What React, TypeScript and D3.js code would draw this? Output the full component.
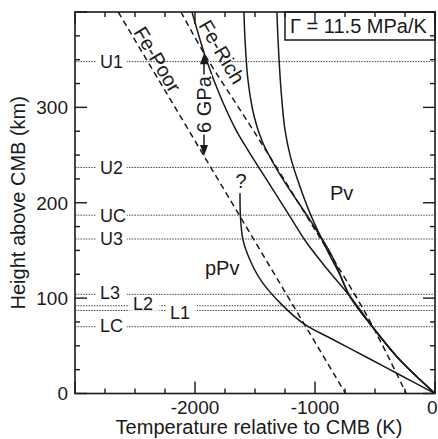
import React from "react";
import * as d3 from "d3";

// ---------- data ----------
const tempDomain: [number, number] = [-3000, 0];
const heightDomain: [number, number] = [0, 400];
const tempTickLabels = [-2000, -1000, 0];
const heightTickLabels = [0, 100, 200, 300];

const levelNames = ["U1", "U2", "UC", "U3", "L3", "L2", "L1", "LC"];
const levelHeights = [348, 237, 187, 162, 104, 92, 87, 70];
// label position (temperature) and small vertical nudges (px) — layout only
const levelLabelT = [-2792, -2792, -2792, -2792, -2792, -2517, -2208, -2792];
const levelLabelDy = [0, 0, 0, 0, -1.5, -2.5, 1.7, -1];

// phase boundaries [T, h]
const fePoor: [number, number][] = [[-2640, 400], [-745, 0]];
const feRich: [number, number][] = [[-2117, 400], [-1917, 355], [-1515, 276], [-1040, 180], [-560, 80], [-240, 0]];

// geotherms [T, h]
const geothermA: [number, number][] = [[-2025, 400], [-1908, 351], [-1792, 312.5], [-1653, 275], [-1558, 255], [-1375, 218.6], [-1208, 185.4], [-1069, 158], [-892, 129.5], [-708, 101.7], [-500, 66.6], [-292, 35.1], [0, 0]];
const geothermB: [number, number][] = [[-1592, 400], [-1583, 370.6], [-1558, 328], [-1508, 291], [-1442, 265], [-1358, 244], [-1250, 221], [-1042, 182], [-858, 144], [-708, 101.7], [-500, 66.6], [-292, 35.1], [0, 0]];
const geothermC: [number, number][] = [[-1317, 400], [-1308, 370.6], [-1283, 318.2], [-1250, 276.3], [-1208, 250], [-1150, 225.9], [-1042, 189.1], [-900, 150.5], [-792, 124.3], [-708, 101.7], [-500, 66.6], [-292, 35.1], [0, 0]];
const geothermPPv: [number, number][] = [[-1625, 210], [-1621, 185], [-1600, 161], [-1542, 140], [-1442, 117], [-1283, 94], [-1092, 73], [-875, 58.2], [-558, 37.2], [-292, 19.4], [0, 0]];

const gammaText = "Γ = 11.5 MPa/K";
const arrowT = -1925;
const arrowText = "6 GPa";

// ---------- layout ----------
const W = 438, H = 439;
const L = 75, R = 435, T = 12, B = 393.5;
const FONT = "'Liberation Sans', Arial, Helvetica, sans-serif";
const INK = "#1a1a1a";

export default function App() {
  const x = d3.scaleLinear().domain(tempDomain).range([L, R]);
  const y = d3.scaleLinear().domain(heightDomain).range([B, T]);
  const line = d3
    .line<[number, number]>()
    .x((d) => x(d[0]))
    .y((d) => y(d[1]))
    .curve(d3.curveCatmullRom.alpha(0.5));
  const straight = d3
    .line<[number, number]>()
    .x((d) => x(d[0]))
    .y((d) => y(d[1]));

  const xTicks = d3.range(tempDomain[0], tempDomain[1] + 1, 250);
  const yTicks = d3.range(heightDomain[0], heightDomain[1] + 1, 25);

  const hAt = (pts: [number, number][], t: number) =>
    d3.scaleLinear().domain(pts.map((p) => p[0])).range(pts.map((p) => p[1]))(t);
  const ax = x(arrowT);
  const aTop = y(hAt([...feRich].reverse(), arrowT));
  const aBot = y(hAt([...fePoor].reverse(), arrowT));

  const angle = (pts: [number, number][]) => {
    const a = pts[0], b = pts[pts.length - 1];
    return (Math.atan2(y(b[1]) - y(a[1]), x(b[0]) - x(a[0])) * 180) / Math.PI;
  };

  const lblFs = 18;
  const cap = lblFs * 0.716;

  return (
    <div style={{ position: "fixed", left: 0, top: 0 }}>
      <svg width={W} height={H} style={{ display: "block", background: "#fff" }} fontFamily={FONT}>
        <defs>
          <clipPath id="plot">
            <rect x={L} y={T} width={R - L} height={B - T} />
          </clipPath>
        </defs>
        <rect width={W} height={H} fill="#fff" />

        {/* horizontal levels */}
        <g clipPath="url(#plot)">
          {levelHeights.map((h, i) => (
            <line key={"lv" + i} x1={L} x2={R} y1={y(h)} y2={y(h)} stroke="#444" strokeWidth={1} strokeDasharray="1.5,1.2" />
          ))}
        </g>
        {levelNames.map((n, i) => {
          const cy = y(levelHeights[i]) + levelLabelDy[i];
          const tx = x(levelLabelT[i]);
          const w = n.length * 0.66 * lblFs;
          return (
            <g key={"ll" + i}>
              <rect x={tx - 4} y={cy - cap / 2 - 1} width={w + 7} height={cap + 2} fill="#fff" />
              <text x={tx} y={cy + cap / 2} fontSize={lblFs} fill={INK}>
                {n}
              </text>
            </g>
          );
        })}

        {/* curves */}
        <g clipPath="url(#plot)" fill="none" stroke={INK} strokeWidth={1.5}>
          <path d={straight(fePoor) || ""} strokeDasharray="6,4" />
          <path d={line(feRich) || ""} strokeDasharray="6,4" />
          <path d={line(geothermA) || ""} />
          <path d={line(geothermB) || ""} />
          <path d={line(geothermC) || ""} />
          <path d={line(geothermPPv) || ""} />
        </g>

        {/* boundary labels */}
        <text x={x(-2517)} y={y(379)} fontSize={20} fill={INK} transform={`rotate(${angle(fePoor)},${x(-2517)},${y(379)})`}>
          Fe-Poor
        </text>
        <text x={x(-1975)} y={y(386)} fontSize={20} fill={INK} transform={`rotate(${angle(feRich)},${x(-1975)},${y(386)})`}>
          Fe-Rich
        </text>

        {/* 6 GPa arrow */}
        <g fill={INK} stroke={INK}>
          <line x1={ax} x2={ax} y1={aTop + 8} y2={aBot - 8} strokeWidth={1.5} />
          <polygon points={`${ax},${aTop} ${ax - 4},${aTop + 11} ${ax + 4},${aTop + 11}`} stroke="none" />
          <polygon points={`${ax},${aBot} ${ax - 4},${aBot - 11} ${ax + 4},${aBot - 11}`} stroke="none" />
        </g>
        <rect x={ax - 8} y={(aTop + aBot) / 2 - 30} width={16} height={60} fill="#fff" />
        <text
          x={ax}
          y={(aTop + aBot) / 2}
          fontSize={20}
          fill={INK}
          textAnchor="middle"
          dy="0.36em"
          transform={`rotate(-90,${ax},${(aTop + aBot) / 2})`}
        >
          {arrowText}
        </text>

        {/* region labels */}
        <text x={x(-875)} y={y(203)} fontSize={20} fill={INK}>Pv</text>
        <text x={x(-1917)} y={y(124)} fontSize={20} fill={INK}>pPv</text>
        <text x={x(-1617)} y={y(215.5)} fontSize={20} fill={INK} textAnchor="middle">?</text>

        {/* gamma box */}
        <rect x={285} y={T} width={R - 285} height={28} fill="#fff" stroke={INK} strokeWidth={1.5} />
        <text x={290} y={33} fontSize={20} fill={INK}>{gammaText}</text>

        {/* frame and ticks */}
        <rect x={L} y={T} width={R - L} height={B - T} fill="none" stroke={INK} strokeWidth={1.6} />
        <g stroke={INK} strokeWidth={1.4}>
          {xTicks.map((t) => {
            const len = t % 1000 === 0 ? 12 : 5;
            return (
              <g key={"xt" + t}>
                <line x1={x(t)} x2={x(t)} y1={B} y2={B - len} />
                <line x1={x(t)} x2={x(t)} y1={T} y2={T + len} />
              </g>
            );
          })}
          {yTicks.map((h) => {
            const len = h % 100 === 0 ? 12 : 5;
            return (
              <g key={"yt" + h}>
                <line x1={L} x2={L + len} y1={y(h)} y2={y(h)} />
                <line x1={R} x2={R - len} y1={y(h)} y2={y(h)} />
              </g>
            );
          })}
        </g>
        {tempTickLabels.map((t) => {
          const atEnd = t === tempDomain[1];
          return (
            <text key={"xl" + t} x={atEnd ? W - 0.5 : x(t)} y={414} fontSize={19} fill={INK} textAnchor={atEnd ? "end" : "middle"}>
              {String(t)}
            </text>
          );
        })}
        {heightTickLabels.map((h) => (
          <text key={"yl" + h} x={L - 7} y={y(h)} dy="0.36em" fontSize={19} fill={INK} textAnchor="end">
            {String(h)}
          </text>
        ))}
        <text x={259} y={434} fontSize={20} fill={INK} textAnchor="middle">
          Temperature relative to CMB (K)
        </text>
        <text x={25} y={(T + B) / 2} fontSize={20} fill={INK} textAnchor="middle" transform={`rotate(-90,25,${(T + B) / 2})`}>
          Height above CMB (km)
        </text>
      </svg>
    </div>
  );
}
